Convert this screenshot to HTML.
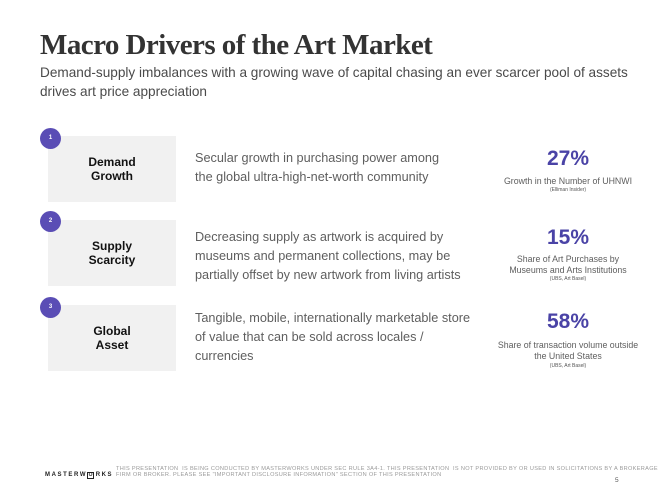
<!DOCTYPE html>
<html>
<head>
<meta charset="utf-8">
<style>
  html, body { margin:0; padding:0; }
  body { width:670px; height:502px; position:relative; background:#ffffff; overflow:hidden;
         font-family:"Liberation Sans", Arial, sans-serif; }
  .abs { position:absolute; white-space:nowrap; }
  .title { left:40px; top:28px; font-family:"Liberation Serif", serif; font-weight:bold;
           font-size:29px; line-height:34px; letter-spacing:-0.55px; color:#333333; }
  .sub { left:40px; top:63px; font-size:13.6px; line-height:19px; color:#4a4a4a; }
  .box { position:absolute; left:48px; width:128px; height:66px; background:#f1f1f1;
         display:flex; align-items:center; justify-content:center; text-align:center;
         font-weight:bold; font-size:12px; line-height:14.5px; color:#111111; }
  .circ { position:absolute; width:21px; height:21px; border-radius:50%; background:#5a4db5;
          color:#fff; font-size:6px; font-weight:bold; text-align:center; line-height:21px; }
  .mid { left:195px; font-size:12.7px; line-height:19px; color:#5e5e5e; }
  .stat { position:absolute; left:488px; width:160px; text-align:center; }
  .pct { font-size:21px; line-height:21px; font-weight:bold; color:#4a43a6; }
  .lab { font-size:8.8px; line-height:11px; color:#5e5e5e; }
  .src { font-size:5px; line-height:6px; color:#555555; }
  .disc { left:116px; top:466px; font-size:5.6px; line-height:6px; letter-spacing:0.32px; color:#9a9a9a; }
  .logo { left:45px; top:471px; font-size:6px; line-height:8px; letter-spacing:1.6px; color:#222; font-weight:bold; }
  .logo .o { display:inline-block; border:1px solid #222; width:5px; height:5px; line-height:5px;
             font-size:5px; text-align:center; letter-spacing:0; margin-right:1.6px; vertical-align:0px; }
</style>
</head>
<body>
  <div class="abs title">Macro Drivers of the Art Market</div>
  <div class="abs sub">Demand-supply imbalances with a growing wave of capital chasing an ever scarcer pool of assets<br>drives art price appreciation</div>

  <div class="box" style="top:136px;">Demand<br>Growth</div>
  <div class="box" style="top:220px;">Supply<br>Scarcity</div>
  <div class="box" style="top:305px;">Global<br>Asset</div>

  <div class="circ" style="left:40px; top:128px;">1</div>
  <div class="circ" style="left:40px; top:211px;">2</div>
  <div class="circ" style="left:40px; top:297px;">3</div>

  <div class="abs mid" style="top:148.6px;">Secular growth in purchasing power among<br>the global ultra-high-net-worth community</div>
  <div class="abs mid" style="top:227.6px;">Decreasing supply as artwork is acquired by<br>museums and permanent collections, may be<br>partially offset by new artwork from living artists</div>
  <div class="abs mid" style="top:308.6px;">Tangible, mobile, internationally marketable store<br>of value that can be sold across locales /<br>currencies</div>

  <div class="stat pct" style="top:147.7px;">27%</div>
  <div class="stat lab" style="top:175.8px;">Growth in the Number of UHNWI</div>
  <div class="stat src" style="top:187.3px;">(Elliman Insider)</div>

  <div class="stat pct" style="top:226.5px;">15%</div>
  <div class="stat lab" style="top:254.1px;">Share of Art Purchases by<br>Museums and Arts Institutions</div>
  <div class="stat src" style="top:276.3px;">(UBS, Art Basel)</div>

  <div class="stat pct" style="top:311.2px;">58%</div>
  <div class="stat lab" style="top:339.8px;">Share of transaction volume outside<br>the United States</div>
  <div class="stat src" style="top:362.8px;">(UBS, Art Basel)</div>

  <div class="abs logo">MASTERW<span class="o">O</span>RKS</div>
  <div class="abs disc">THIS PRESENTATION &nbsp;IS BEING CONDUCTED BY MASTERWORKS UNDER SEC RULE 3A4-1. THIS PRESENTATION &nbsp;IS NOT PROVIDED BY OR USED IN SOLICITATIONS BY A BROKERAGE<br>FIRM OR BROKER. PLEASE SEE "IMPORTANT DISCLOSURE INFORMATION" SECTION OF THIS PRESENTATION</div>
  <div class="abs" style="left:615px; top:477px; font-size:6.5px; line-height:8px; color:#555;">5</div>
</body>
</html>
